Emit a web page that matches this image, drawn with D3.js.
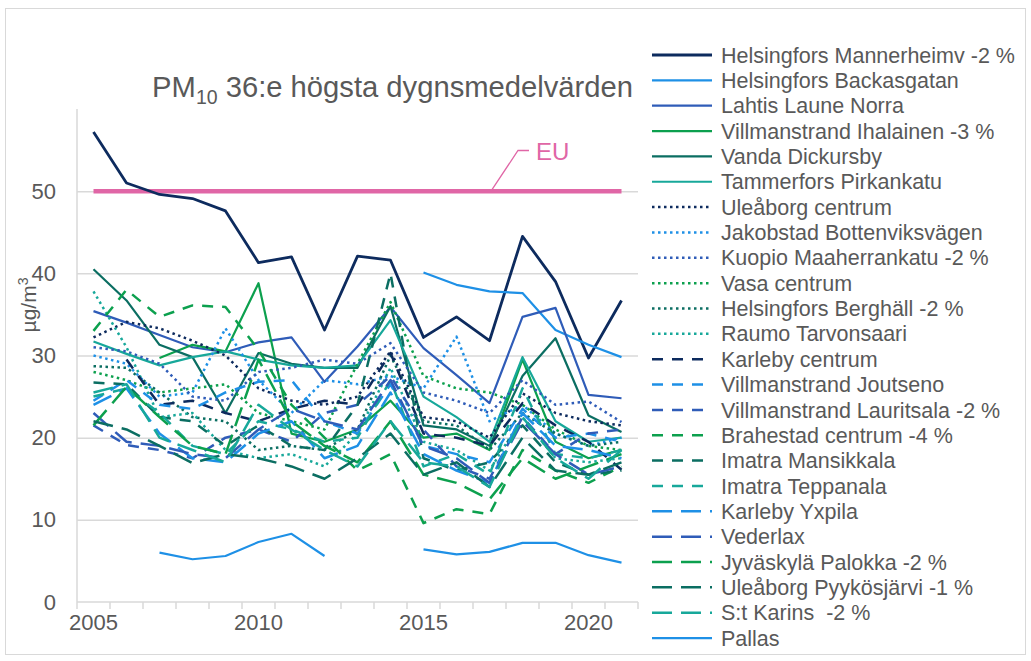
<!DOCTYPE html>
<html>
<head>
<meta charset="utf-8">
<script src="https://cdn.jsdelivr.net/npm/d3@7"></script>
<style>
  body { margin: 0; background: #fff; font-family: "Liberation Sans", Arial, sans-serif; }
</style>
</head>
<body>
<div id="chart"></div>
<script>
/*************** DATA ***************/
// 36th highest daily PM10 mean per station, 2005-2021 (µg/m3), null = no data
var years = [2005, 2006, 2007, 2008, 2009, 2010, 2011, 2012, 2013, 2014, 2015, 2016, 2017, 2018, 2019, 2020, 2021];
var yTicks = [0, 10, 20, 30, 40, 50];
var xLabels = [2005, 2010, 2015, 2020];
var euLimit = 50;

var mannerheimv = [57.2, 51.0, 49.6, 49.1, 47.6, 41.3, 42.0, 33.1, 42.1, 41.6, 32.2, 34.7, 31.8, 44.5, 39.0, 29.7, 36.7];
var backasgatan = [null, null, null, null, null, null, null, null, null, null, 40.1, 38.6, 37.8, 37.6, 33.1, 31.3, 29.8];
var lahtis = [35.4, 34.0, 32.5, 31.0, 30.4, 31.6, 32.2, 26.8, 31.1, 35.9, 30.9, 27.6, 24.2, 34.7, 35.8, 25.2, 24.8];
var ihalainen = [null, null, 29.7, 31.3, 30.5, 38.8, 20.5, 19.5, 21.0, 24.5, 20.0, 20.5, 18.5, 29.5, 19.5, 17.5, 18.5];
var dickursby = [40.5, 36.7, 31.3, 29.8, 23.0, 30.3, 29.0, 28.5, 28.5, 36.0, 21.5, 21.0, 19.0, 27.5, 32.1, 22.7, 20.7];
var pirkankatu = [31.7, 30.2, 28.8, 29.8, 30.5, 29.5, 28.8, 28.5, 28.8, 34.3, 25.0, 22.5, 19.5, 29.8, 22.0, 19.5, 20.0];
var uleaborgCentrum = [32.2, 34.1, 33.3, 31.8, 30.0, 26.0, 24.5, 24.0, 25.0, 30.5, 22.5, 22.0, 20.0, 25.4, 23.0, 22.0, 21.5];
var jakobstad = [30.0, 29.0, 25.0, 25.5, 33.3, 27.0, 23.0, 27.0, 26.5, 27.5, 26.0, 32.3, 22.0, 24.0, 20.5, 19.0, 20.0];
var kuopio = [31.0, 30.5, 29.0, 25.0, 24.5, 28.0, 28.5, 29.5, 29.0, 31.5, 25.5, 24.5, 23.0, 27.0, 24.0, 24.4, 21.9];
var vasa = [28.0, 27.0, 25.5, 26.0, 26.5, 23.0, 22.0, 21.0, 29.0, 36.5, 27.5, 26.0, 25.5, 24.0, 21.0, 19.0, 18.5];
var berghall = [28.7, 28.5, 25.5, 22.5, 22.0, 18.5, 19.0, 18.5, 21.0, 30.0, 22.0, 21.5, 18.5, 23.0, 20.5, 19.0, 19.5];
var raumo = [37.8, 31.0, 22.5, 23.0, 18.5, 17.5, 18.0, 16.5, 20.5, 28.5, 19.5, 18.5, 16.0, 22.5, 17.5, 17.0, 17.5];
var karlebyCentrum = [null, 29.5, 24.0, 24.5, 23.0, 22.0, 23.5, 24.5, 24.0, 30.3, 20.5, 20.0, 19.0, 24.2, 21.5, 19.5, 16.1];
var joutseno = [24.5, 27.0, 24.0, 23.5, 25.5, 26.8, 27.0, 22.0, 20.5, 26.5, 19.0, 18.0, 17.0, 23.5, 20.0, 20.5, 19.5];
var lauritsala = [21.5, 19.1, 18.5, 17.5, 20.0, 21.0, 19.5, 23.0, 24.0, 27.5, 21.0, 16.5, 15.0, 22.5, 18.0, 20.5, 21.0];
var brahestad = [33.0, 38.0, 34.7, 36.1, 35.9, 30.7, 24.0, 20.0, 16.0, 18.0, 9.6, 11.3, 10.7, 18.5, 16.0, 14.5, 16.5];
var mansikkala = [26.7, 26.5, 22.5, 22.0, 19.0, 21.5, 19.0, 18.5, 24.0, 40.0, 17.5, 16.0, 17.0, 21.5, 17.0, 15.5, 16.0];
var teppanala = [25.0, 26.0, 23.0, 19.0, 18.0, 22.0, 21.0, 19.5, 20.0, 27.0, 16.5, 18.0, 15.5, 26.0, 18.0, 17.5, 18.5];
var yxpila = [24.0, 26.0, 20.5, 17.5, 17.0, 20.5, 22.0, 17.5, 19.0, 25.5, 18.0, 16.0, 14.5, 23.0, 19.0, 18.5, 17.5];
var vederlax = [23.0, 19.5, 19.0, 18.0, 17.5, 21.0, 23.5, 22.0, 21.0, 27.0, 19.0, 17.5, 14.5, 22.0, 18.0, 15.5, 16.5];
var palokka = [21.5, 26.2, 22.5, 19.0, 18.0, 29.5, 22.0, 19.0, 17.0, 22.0, 15.5, 14.5, 12.5, 17.5, 15.0, 16.5, 18.0];
var pyykosjarvi = [22.0, 21.0, 19.0, 16.9, 18.0, 17.5, 16.5, 15.0, 17.5, 20.5, 15.5, 17.0, 14.0, 20.0, 16.0, 15.5, 17.0];
var stKarins = [25.5, 26.5, 20.0, 18.5, 17.0, 24.0, 21.0, 18.5, 16.5, 22.0, 17.0, 16.5, 14.0, 22.5, 17.5, 15.0, 18.5];
var pallas = [null, null, 6.0, 5.2, 5.6, 7.3, 8.3, 5.6, null, null, 6.4, 5.8, 6.1, 7.2, 7.2, 5.7, 4.8];

// colour family + line style per station, in legend order
var colours = {
  navy: '#0d2b5e', light: '#1e90e6', mid: '#2f5cb8',
  green: '#0ca04e', dark: '#0b6e62', teal: '#17a89a'
};
var dashes = { solid: null, dot: '2.5 3.5', dash: '11 9', long: '20 9' };

var series = [
  ['Helsingfors Mannerheimv -2 %', mannerheimv, 'navy', 'solid'],
  ['Helsingfors Backasgatan', backasgatan, 'light', 'solid'],
  ['Lahtis Laune Norra', lahtis, 'mid', 'solid'],
  ['Villmanstrand Ihalainen -3 %', ihalainen, 'green', 'solid'],
  ['Vanda Dickursby', dickursby, 'dark', 'solid'],
  ['Tammerfors Pirkankatu', pirkankatu, 'teal', 'solid'],
  ['Uleåborg centrum', uleaborgCentrum, 'navy', 'dot'],
  ['Jakobstad Bottenviksvägen', jakobstad, 'light', 'dot'],
  ['Kuopio Maaherrankatu -2 %', kuopio, 'mid', 'dot'],
  ['Vasa centrum', vasa, 'green', 'dot'],
  ['Helsingfors Berghäll -2 %', berghall, 'dark', 'dot'],
  ['Raumo Tarvonsaari', raumo, 'teal', 'dot'],
  ['Karleby centrum', karlebyCentrum, 'navy', 'dash'],
  ['Villmanstrand Joutseno', joutseno, 'light', 'dash'],
  ['Villmanstrand Lauritsala -2 %', lauritsala, 'mid', 'dash'],
  ['Brahestad centrum -4 %', brahestad, 'green', 'dash'],
  ['Imatra Mansikkala', mansikkala, 'dark', 'dash'],
  ['Imatra Teppanala', teppanala, 'teal', 'dash'],
  ['Karleby Yxpila', yxpila, 'light', 'long'],
  ['Vederlax', vederlax, 'mid', 'long'],
  ['Jyväskylä Palokka -2 %', palokka, 'green', 'long'],
  ['Uleåborg Pyykösjärvi -1 %', pyykosjarvi, 'dark', 'long'],
  ['S:t Karins  -2 %', stKarins, 'teal', 'long'],
  ['Pallas', pallas, 'light', 'solid']
].map(function(s) {
  return { name: s[0], values: s[1], colour: colours[s[2]], dash: dashes[s[3]], solid: s[3] === 'solid' };
});

/*************** CHART ***************/
var width = 1031, height = 661;
var textColour = '#595959';
var gridColour = '#d9d9d9';
var euColour = '#e066a6';

var svg = d3.select('#chart').append('svg')
  .attr('width', width)
  .attr('height', height);

// outer frame
svg.append('rect')
  .attr('x', 5.5).attr('y', 8.5)
  .attr('width', 1020).attr('height', 646)
  .attr('fill', 'none')
  .attr('stroke', gridColour);

// category axis: one band per year, lines go through band centres
var xBand = d3.scaleBand().domain(years).range([77, 638]).paddingInner(0).paddingOuter(0);
var x = function(yr) { return xBand(yr) + xBand.bandwidth() / 2; };
var y = d3.scaleLinear().domain([0, 60]).range([602, 109]);

// horizontal gridlines
svg.append('g')
  .attr('transform', 'translate(77,0)')
  .call(d3.axisLeft(y).tickValues(yTicks.slice(1)).tickSize(-(638 - 77)).tickFormat(''))
  .call(function(g) {
    g.select('.domain').remove();
    g.selectAll('line').attr('stroke', gridColour).attr('stroke-width', 1.5);
  });

// y axis line
svg.append('line')
  .attr('x1', 77).attr('x2', 77)
  .attr('y1', y(60)).attr('y2', y(0))
  .attr('stroke', gridColour).attr('stroke-width', 1.5);

// y tick labels
svg.append('g')
  .attr('transform', 'translate(56,0)')
  .call(d3.axisLeft(y).tickValues(yTicks).tickSize(0).tickPadding(0))
  .call(function(g) {
    g.select('.domain').remove();
    g.selectAll('text')
      .attr('fill', textColour)
      .style('font-size', '22px')
      .style('font-family', '"Liberation Sans", Arial, sans-serif');
  });

// x axis line with tick marks between categories
svg.append('line')
  .attr('x1', 77).attr('x2', 638)
  .attr('y1', y(0)).attr('y2', y(0))
  .attr('stroke', gridColour).attr('stroke-width', 1.5);

svg.append('g').selectAll('line')
  .data(years.concat(['end']))
  .enter()
  .append('line')
  .attr('x1', d => d === 'end' ? 638 : xBand(d))
  .attr('x2', d => d === 'end' ? 638 : xBand(d))
  .attr('y1', y(0)).attr('y2', y(0) + 7)
  .attr('stroke', gridColour).attr('stroke-width', 1.5);

svg.append('g').selectAll('text')
  .data(xLabels)
  .enter()
  .append('text')
  .attr('x', d => x(d))
  .attr('y', 630)
  .attr('text-anchor', 'middle')
  .attr('fill', textColour)
  .style('font-size', '22px')
  .text(d => d);

// y axis title
var yTitle = svg.append('text')
  .attr('transform', 'translate(36,' + 305 + ') rotate(-90)')
  .attr('text-anchor', 'middle')
  .attr('fill', textColour)
  .style('font-size', '21px');
yTitle.append('tspan').text('µg/m');
yTitle.append('tspan').attr('dy', -8).style('font-size', '14px').text('3');

// EU limit line
svg.append('line')
  .attr('x1', x(years[0])).attr('x2', x(years[years.length - 1]))
  .attr('y1', y(euLimit)).attr('y2', y(euLimit))
  .attr('stroke', euColour).attr('stroke-width', 4.5);

svg.append('polyline')
  .attr('points', [[491, y(euLimit)], [518, 150.5], [529, 150.5]].join(' '))
  .attr('fill', 'none')
  .attr('stroke', euColour).attr('stroke-width', 1.3);

svg.append('text')
  .attr('x', 536).attr('y', 160)
  .attr('fill', euColour)
  .style('font-size', '24px')
  .text('EU');

// station lines
var line = d3.line()
  .defined(d => d.v !== null)
  .x(d => x(d.year))
  .y(d => y(d.v));

svg.append('g').selectAll('path')
  .data(series)
  .enter()
  .append('path')
  .attr('d', s => line(years.map((yr, i) => ({ year: yr, v: s.values[i] }))))
  .attr('fill', 'none')
  .attr('stroke', s => s.colour)
  .attr('stroke-width', (s, i) => i === 0 ? 2.8 : (s.solid ? 2.2 : 2.5))
  .attr('stroke-dasharray', s => s.dash)
  .attr('stroke-linejoin', 'round');

// title
var title = svg.append('text')
  .attr('x', 633).attr('y', 97)
  .attr('text-anchor', 'end')
  .attr('fill', textColour)
  .style('font-size', '29.2px');
title.append('tspan').text('PM');
title.append('tspan').attr('dy', 7).style('font-size', '19.5px').text('10');
title.append('tspan').attr('dy', -7).text(' 36:e högsta dygnsmedelvärden');

/*************** LEGEND ***************/
var legend = svg.append('g').attr('transform', 'translate(652,55)');
var rowH = 25.35;

var rows = legend.selectAll('g')
  .data(series)
  .enter()
  .append('g')
  .attr('transform', (d, i) => 'translate(0,' + (i * rowH) + ')');

rows.append('line')
  .attr('x1', 0).attr('x2', 60)
  .attr('stroke', d => d.colour)
  .attr('stroke-width', (d, i) => i === 0 ? 2.8 : (d.solid ? 2.2 : 2.5))
  .attr('stroke-dasharray', d => d.dash);

rows.append('text')
  .attr('x', 69).attr('y', 7.6)
  .attr('fill', textColour)
  .style('font-size', '21.5px')
  .style('white-space', 'pre')
  .text(d => d.name);
</script>
</body>
</html>
